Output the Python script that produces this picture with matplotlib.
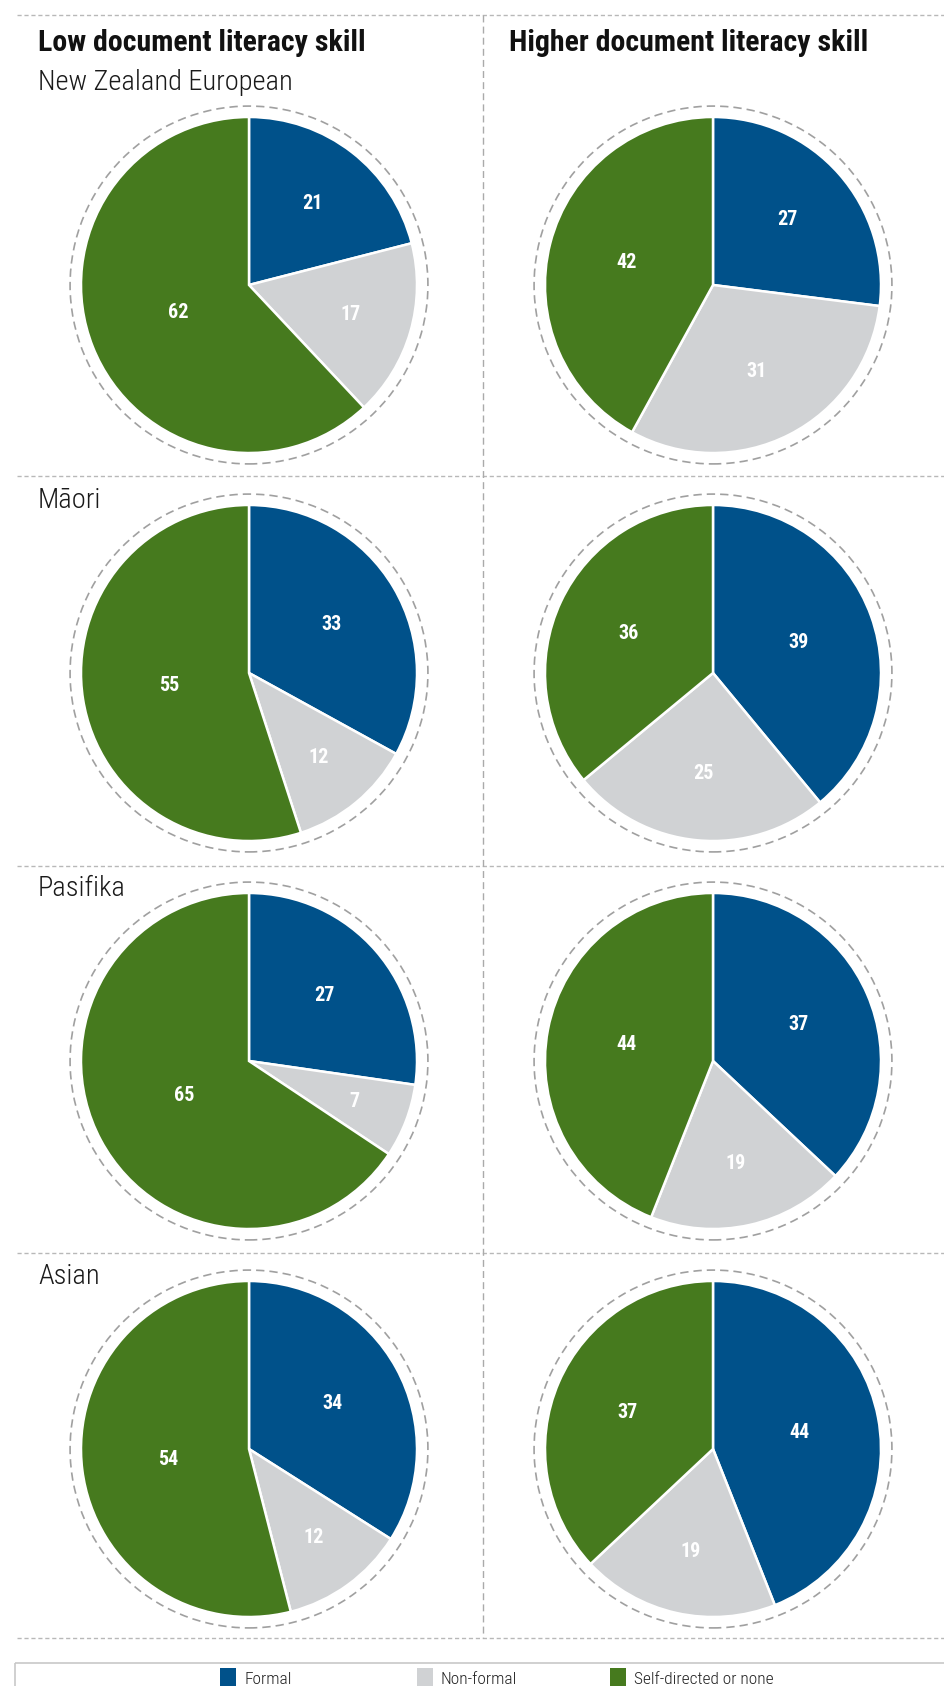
import matplotlib
matplotlib.use("Agg")
import matplotlib.pyplot as plt
from matplotlib import font_manager
from matplotlib.patches import Circle, Rectangle
import numpy as np

# ---------------- data ----------------
groups = ["New Zealand European", "Māori", "Pasifika", "Asian"]
column_titles = ["Low document literacy skill", "Higher document literacy skill"]
categories = ["Formal", "Non-formal", "Self-directed or none"]

low_formal = [21, 33, 27, 34]
low_nonformal = [17, 12, 7, 12]
low_self = [62, 55, 65, 54]

high_formal = [27, 39, 37, 44]
high_nonformal = [31, 25, 19, 19]
high_self = [42, 36, 44, 37]

colors = ["#00518A", "#D0D2D4", "#467A1E"]

# ---------------- fonts ----------------
names = {f.name for f in font_manager.fontManager.ttflist}
FONT = "Lato"
for cand in ["Roboto Condensed", "Liberation Sans Narrow", "Open Sans Condensed", "Lato", "Roboto"]:
    if cand in names:
        FONT = cand
        break
plt.rcParams["font.family"] = [FONT, "DejaVu Sans"]

W, H = 944, 1686
fig = plt.figure(figsize=(W / 100, H / 100), dpi=100)
fig.patch.set_facecolor("white")

bg = fig.add_axes([0, 0, 1, 1])
bg.set_xlim(0, W)
bg.set_ylim(H, 0)
bg.axis("off")

line_col = "#B8B8B8"
# top line and row separators
for y in [15, 476, 866, 1253, 1638]:
    bg.plot([17, W], [y, y], color=line_col, lw=1.0, ls=(0, (3, 2)))
# vertical separator
bg.plot([483, 483], [15, 1638], color="#AAAAAA", lw=1.0, ls=(0, (5, 3)))

# column titles
bg.text(38, 43, column_titles[0], fontsize=21.5, fontweight="bold", color="#111111",
        va="center", ha="left")
bg.text(509, 43, column_titles[1], fontsize=21.5, fontweight="bold", color="#111111",
        va="center", ha="left")

# row labels
row_label_y = [83, 501, 889, 1276]
for g, y in zip(groups, row_label_y):
    bg.text(38, y, g, fontsize=20.5, fontweight="light", color="#1A1A1A",
            va="center", ha="left")

# ---------------- pies ----------------
R_PX = 168.0
LIM = 1.12
centers_x = [249, 713]
centers_y = [285, 673, 1061, 1449]

low = list(zip(low_formal, low_nonformal, low_self))
high = list(zip(high_formal, high_nonformal, high_self))

for col, data in enumerate([low, high]):
    for row, vals in enumerate(data):
        cx, cy = centers_x[col], centers_y[row]
        half = LIM * R_PX
        ax = fig.add_axes([(cx - half) / W, 1 - (cy + half) / H, 2 * half / W, 2 * half / H])
        wedges, _ = ax.pie(vals, colors=colors, startangle=90, counterclock=False,
                           radius=1.0,
                           wedgeprops=dict(edgecolor="white", linewidth=1.8))
        total = float(sum(vals))
        for w, v in zip(wedges, vals):
            mid = np.deg2rad((w.theta1 + w.theta2) / 2)
            d = 0.70 - 0.40 * (v / total)
            ax.text(d * np.cos(mid), d * np.sin(mid), str(v), color="white",
                    fontsize=14.5, fontweight="bold", ha="center", va="center")
        ax.add_patch(Circle((0, 0), 1.065, fill=False, edgecolor="#A0A0A0",
                            lw=1.2, ls=(0, (5, 3))))
        ax.set_xlim(-LIM, LIM)
        ax.set_ylim(-LIM, LIM)
        ax.set_aspect("equal")
        ax.axis("off")

# ---------------- legend ----------------
bg.add_patch(Rectangle((15, 1663), W + 10, 60, fill=False, edgecolor="#C8C8C8", lw=1.2))
leg_x = [220, 417, 610]
for x, c, lab in zip(leg_x, colors, categories):
    bg.add_patch(Rectangle((x, 1668), 16, 22, facecolor=c, edgecolor="none"))
    bg.text(x + 24, 1679, lab, fontsize=12.5, fontweight="light", color="#222222",
            va="center", ha="left")

fig.savefig("out.png", dpi=100, facecolor="white")
